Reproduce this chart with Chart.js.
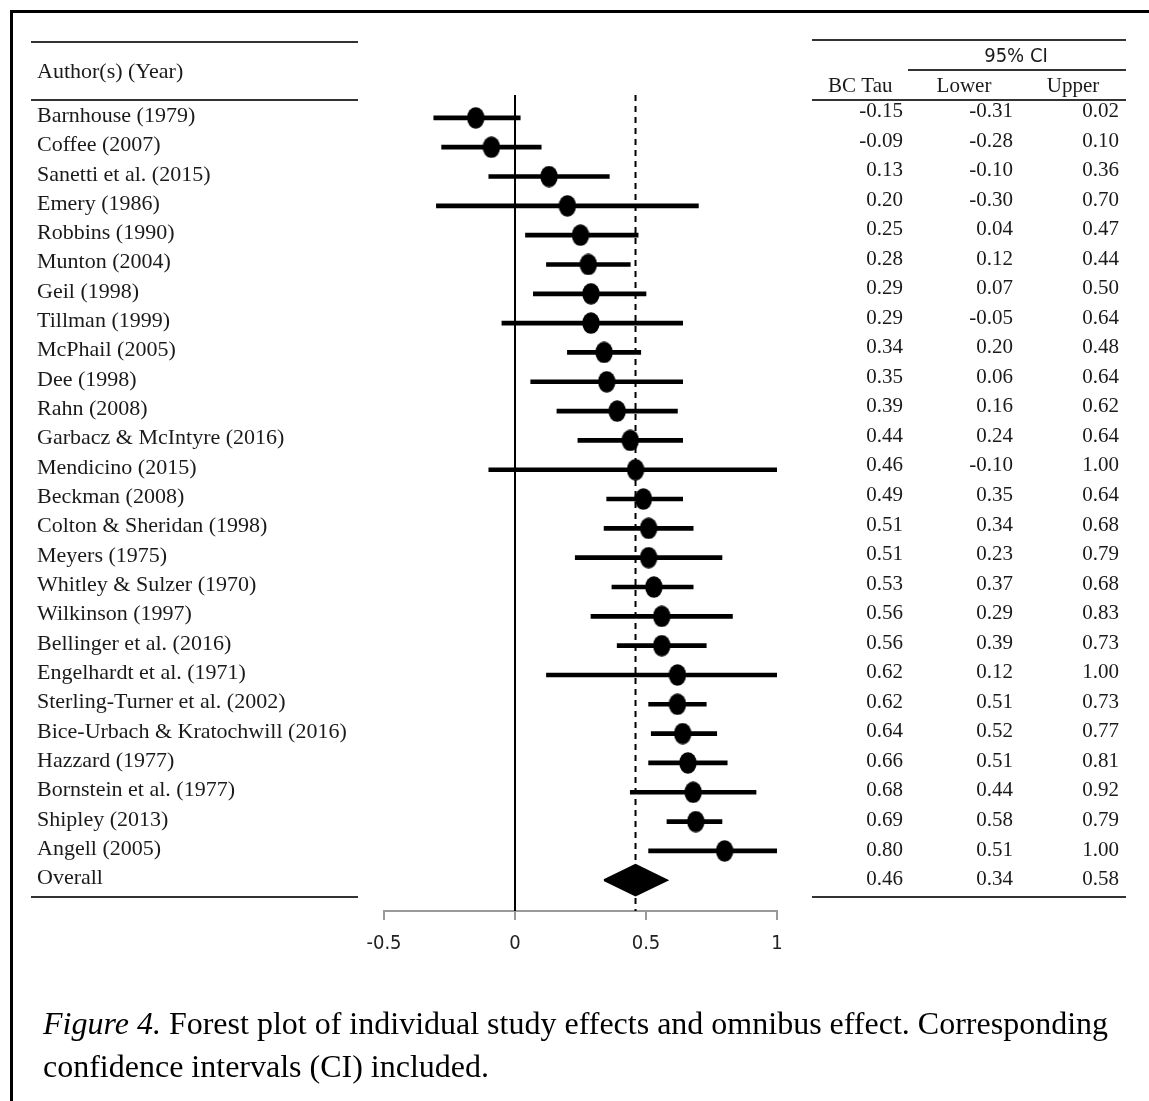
<!DOCTYPE html>
<html>
<head>
<meta charset="utf-8">
<script src="https://cdn.jsdelivr.net/npm/chart.js@4.4.0/dist/chart.umd.min.js"></script>
<style>
body{margin:0;background:#fff;}
canvas{display:block;}
</style>
</head>
<body>
<canvas id="forest" width="1149" height="1101"></canvas>
<script>
//studies
var authors=["Barnhouse (1979)","Coffee (2007)","Sanetti et al. (2015)","Emery (1986)","Robbins (1990)","Munton (2004)","Geil (1998)","Tillman (1999)","McPhail (2005)","Dee (1998)","Rahn (2008)","Garbacz & McIntyre (2016)","Mendicino (2015)","Beckman (2008)","Colton & Sheridan (1998)","Meyers (1975)","Whitley & Sulzer (1970)","Wilkinson (1997)","Bellinger et al. (2016)","Engelhardt et al. (1971)","Sterling-Turner et al. (2002)","Bice-Urbach & Kratochwill (2016)","Hazzard (1977)","Bornstein et al. (1977)","Shipley (2013)","Angell (2005)"]
var tau=[-0.15,-0.09,0.13,0.20,0.25,0.28,0.29,0.29,0.34,0.35,0.39,0.44,0.46,0.49,0.51,0.51,0.53,0.56,0.56,0.62,0.62,0.64,0.66,0.68,0.69,0.80]
var lower=[-0.31,-0.28,-0.10,-0.30,0.04,0.12,0.07,-0.05,0.20,0.06,0.16,0.24,-0.10,0.35,0.34,0.23,0.37,0.29,0.39,0.12,0.51,0.52,0.51,0.44,0.58,0.51]
var upper=[0.02,0.10,0.36,0.70,0.47,0.44,0.50,0.64,0.48,0.64,0.62,0.64,1.00,0.64,0.68,0.79,0.68,0.83,0.73,1.00,0.73,0.77,0.81,0.92,0.79,1.00]

var overallLabel="Overall"
var overallTau=0.46
var overallLower=0.34
var overallUpper=0.58

var xTicks=[-0.5,0,0.5,1]

var serif="'Liberation Serif','Times New Roman',serif"
var sans="'DejaVu Sans Condensed','DejaVu Sans',sans-serif"
var lineColor="#333"
var textColor="#1a1a1a"

function fmt(v){return v.toFixed(2)}

//point marker: black ellipse a bit taller than wide
var dot=document.createElement("canvas")
dot.width=18
dot.height=22
var dctx=dot.getContext("2d")
dctx.fillStyle="#000"
dctx.beginPath()
dctx.ellipse(9,11,8.7,10.8,0,0,Math.PI*2)
dctx.fill()

var overallRow=authors.length
var yMin=-0.78
var yMax=27.05

//datasets built from the arrays
var pointData=tau.map(function(v,i){return {x:v,y:i}})
var ciData=lower.map(function(v,i){return {x:[v,upper[i]],y:i}})
var dh=0.52 //half height of the diamond in rows
var diamondData=[
    {x:overallLower,y:overallRow},
    {x:overallTau,y:overallRow-dh},
    {x:overallUpper,y:overallRow},
    {x:overallTau,y:overallRow+dh},
    {x:overallLower,y:overallRow}
]

function hline(ctx,x1,x2,y,w,c){
    ctx.beginPath()
    ctx.lineWidth=w
    ctx.strokeStyle=c
    ctx.moveTo(x1,y)
    ctx.lineTo(x2,y)
    ctx.stroke()
}

const tablePlugin={
    id:'forestTable',
    afterDraw:(chart)=>{
        const ctx=chart.ctx
        const ys=chart.scales.y
        ctx.save()

        //frame
        ctx.fillStyle="#000"
        ctx.fillRect(10,10,1139,3)
        ctx.fillRect(10,10,3,1091)

        //rules of the left table
        hline(ctx,31,358,42,2,lineColor)
        hline(ctx,31,358,100,2,lineColor)
        hline(ctx,31,358,897,2,lineColor)
        //rules of the right table
        hline(ctx,812,1126,40,2,lineColor)
        hline(ctx,908,1126,70,2,lineColor)
        hline(ctx,812,1126,100,2,lineColor)
        hline(ctx,812,1126,897,2,lineColor)

        ctx.fillStyle=textColor
        ctx.textBaseline="alphabetic"

        //headers
        ctx.font="22px "+serif
        ctx.textAlign="left"
        ctx.fillText("Author(s) (Year)",37,78)
        ctx.font="21px "+serif
        ctx.fillText("BC Tau",828,92)
        ctx.textAlign="center"
        ctx.fillText("Lower",964,92)
        ctx.fillText("Upper",1073,92)
        ctx.font="20px "+sans
        ctx.fillText("95% CI",1016,62)

        //author names
        ctx.font="22px "+serif
        ctx.textAlign="left"
        var names=authors.concat([overallLabel])
        for(var i=0;i<names.length;i++){
            ctx.fillText(names[i],37,ys.getPixelForValue(i)+4)
        }

        //values
        ctx.font="21px "+serif
        ctx.textAlign="right"
        var t=tau.concat([overallTau])
        var lo=lower.concat([overallLower])
        var up=upper.concat([overallUpper])
        for(var i=0;i<t.length;i++){
            var by=117+i*29.54
            ctx.fillText(fmt(t[i]),903,by)
            ctx.fillText(fmt(lo[i]),1013,by)
            ctx.fillText(fmt(up[i]),1119,by)
        }

        //caption
        ctx.textAlign="left"
        ctx.font="italic 32px "+serif
        ctx.fillStyle="#000"
        var fig="Figure 4."
        ctx.fillText(fig,43,1034)
        var w=ctx.measureText(fig).width
        ctx.font="32px "+serif
        ctx.fillText(" Forest plot of individual study effects and omnibus effect. Corresponding",43+w,1034)
        ctx.fillText("confidence intervals (CI) included.",43,1077)

        ctx.restore()
    }
}

var canvas=document.getElementById("forest")

var config={
    type:'scatter',
    data:{
        datasets:[
            {   //study estimates
                type:'scatter',
                data:pointData,
                pointStyle:dot,
                pointRadius:9,
                order:0
            },
            {   //overall diamond
                type:'line',
                data:diamondData,
                borderColor:"#000",
                backgroundColor:"#000",
                borderWidth:2,
                pointRadius:0,
                fill:'shape',
                tension:0,
                order:1
            },
            {   //confidence intervals
                type:'bar',
                indexAxis:'y',
                data:ciData,
                backgroundColor:"#000",
                borderWidth:0,
                barThickness:4,
                order:2
            },
            {   //no effect line
                type:'line',
                data:[{x:0,y:yMin},{x:0,y:yMax}],
                borderColor:"#000",
                borderWidth:2,
                pointRadius:0,
                order:3
            },
            {   //overall effect line
                type:'line',
                data:[{x:overallTau,y:yMin},{x:overallTau,y:yMax}],
                borderColor:"#000",
                borderWidth:2,
                borderDash:[6,5],
                pointRadius:0,
                order:4
            }
        ]
    },
    options:{
        responsive:false,
        animation:false,
        events:[],
        layout:{padding:{left:384,right:372,top:95,bottom:150}},
        plugins:{
            legend:{display:false},
            tooltip:{enabled:false}
        },
        scales:{
            x:{
                type:'linear',
                min:-0.5,
                max:1,
                offset:false,
                afterFit:function(s){s.height=40},
                afterBuildTicks:function(s){s.ticks=xTicks.map(function(v){return {value:v}})},
                border:{display:true,color:"#999",width:2},
                grid:{drawOnChartArea:false,drawTicks:true,tickLength:9,color:"#999",lineWidth:2,offset:false},
                ticks:{
                    color:"#222",
                    padding:12,
                    maxRotation:0,
                    font:{family:sans,size:20},
                    callback:function(v){return String(v)}
                }
            },
            y:{
                type:'linear',
                reverse:true,
                min:yMin,
                max:yMax,
                offset:false,
                display:false
            }
        }
    },
    plugins:[tablePlugin]
}

var chart=new Chart(canvas,config)
</script>
</body>
</html>
